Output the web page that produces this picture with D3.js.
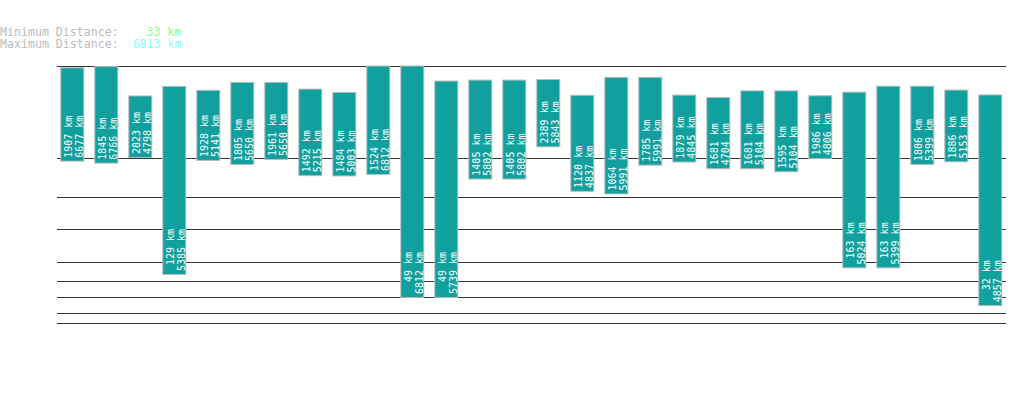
<!DOCTYPE html>
<html>
<head>
<meta charset="utf-8">
<script src="https://cdn.jsdelivr.net/npm/d3@7"></script>
<style>
  html, body { margin: 0; padding: 0; background: #ffffff; }
  svg { display: block; }
  text { font-family: "DejaVu Sans Mono", "Liberation Mono", monospace; }
</style>
</head>
<body>
<script>
// ---- data ----
const minDistances = [1907, 1845, 2023, 129, 1928, 1805, 1961, 1492, 1484, 1524, 49, 49, 1405, 1405,
                      2389, 1120, 1064, 1785, 1879, 1681, 1681, 1595, 1986, 163, 163, 1806, 1886, 32];
const maxDistances = [6677, 6766, 4798, 5385, 5141, 5650, 5650, 5215, 5003, 6812, 6812, 5739, 5802, 5802,
                      5843, 4837, 5991, 5991, 4845, 4704, 5104, 5104, 4806, 5024, 5399, 5399, 5153, 4857];
const overallMin = 33;
const overallMax = 6813;
const gridValues = [10, 20, 50, 100, 200, 500, 1000, 2000, 6813];
const unit = "km";

// ---- layout ----
const W = 1019, H = 402;
const svg = d3.select("body").append("svg").attr("width", W).attr("height", H);

const y = d3.scalePow().exponent(0.3).domain([0, overallMax]).range([365.6, 66]);
const idx = d3.range(minDistances.length);
const x = d3.scaleBand().domain(idx).range([55.3, 55.3 + 34 * idx.length])
  .paddingInner(10 / 34).paddingOuter(5 / 34);

const NB = "\u00a0";
const pad = (s, n) => s.padStart(n, NB);

// header
const header = svg.append("g").attr("font-size", "11.6px").attr("fill", "#bbbbbb");
const l1 = header.append("text").attr("x", 0).attr("y", 36);
l1.append("tspan").text("Minimum" + NB + "Distance:" + NB.repeat(4));
l1.append("tspan").attr("fill", "#88ff88").text(overallMin + NB + unit);
const l2 = header.append("text").attr("x", 0).attr("y", 47.5);
l2.append("tspan").text("Maximum" + NB + "Distance:" + NB.repeat(2));
l2.append("tspan").attr("fill", "#88ffff").text(overallMax + NB + unit);

// grid lines
svg.append("g").selectAll("line").data(gridValues).join("line")
  .attr("x1", 57).attr("x2", 1006)
  .attr("y1", d => Math.round(y(d)) + 0.5).attr("y2", d => Math.round(y(d)) + 0.5)
  .attr("stroke", "#333333").attr("stroke-width", 1);

// bars
const bars = svg.append("g").selectAll("g").data(idx).join("g");
bars.append("rect")
  .attr("x", i => x(i) + 0.5)
  .attr("y", i => y(maxDistances[i]))
  .attr("width", x.bandwidth() - 1)
  .attr("height", i => y(minDistances[i]) - y(maxDistances[i]))
  .attr("fill", "#11a09e")
  .attr("stroke", "#bbbbbb")
  .attr("stroke-width", 1);

const labels = bars.append("text")
  .attr("transform", i => `translate(${x(i) + 12},${y(minDistances[i]) - 2}) rotate(-90)`)
  .attr("font-size", "10px")
  .attr("fill", "#ffffff")
  .attr("text-anchor", "end");
labels.append("tspan").attr("x", 43.5).attr("y", 0).text(i => minDistances[i] + NB + unit);
labels.append("tspan").attr("x", 43.5).attr("y", 11).text(i => maxDistances[i] + NB + unit);
</script>
</body>
</html>
